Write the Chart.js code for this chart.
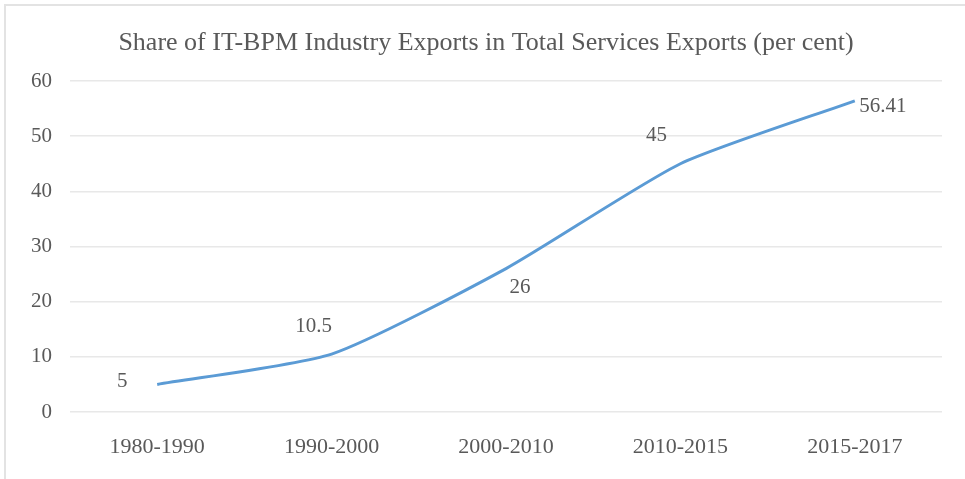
<!DOCTYPE html>
<html>
<head>
<meta charset="utf-8">
<script src="https://cdn.jsdelivr.net/npm/chart.js@4"></script>
<style>
  body { margin: 0; background: #fff; }
  #wrap { position: relative; width: 965px; height: 479px; }
  #frame { position: absolute; left: 4px; top: 4px; width: 975px; height: 490px; border: 2px solid #e3e3e3; box-sizing: border-box; }
  canvas { display: block; }
</style>
</head>
<body>
<div id="wrap">
  <div id="frame"></div>
  <canvas id="lineChart" width="965" height="479"></canvas>
</div>
<script>
// chart values
const periods = ['1980-1990', '1990-2000', '2000-2010', '2010-2015', '2015-2017'];
const shares = [5, 10.5, 26, 45, 56.41];
const shareLabels = ['5', '10.5', '26', '45', '56.41'];
const yTicks = [0, 10, 20, 30, 40, 50, 60];
const chartTitle = 'Share of IT-BPM Industry Exports in Total Services Exports (per cent)';

const textGrey = '#595959';
const serif = '"Liberation Serif", "Times New Roman", serif';

// where each value label sits relative to its point (dx, dy)
const labelOffsets = [[-35, -3], [-18, -28], [14, 19], [-24, -28], [28, 6]];

// draws the value labels and the title (title is centred on the whole frame)
const valueLabels = {
  id: 'valueLabels',
  afterDatasetsDraw(chart) {
    const ctx = chart.ctx;
    const meta = chart.getDatasetMeta(0);
    ctx.save();
    ctx.font = '21px ' + serif;
    ctx.fillStyle = textGrey;
    ctx.textAlign = 'center';
    ctx.textBaseline = 'middle';
    meta.data.forEach((pt, i) => {
      const off = labelOffsets[i];
      ctx.fillText(shareLabels[i], pt.x + off[0], pt.y + off[1]);
    });
    ctx.font = '26px ' + serif;
    ctx.fillText(chartTitle, 486, 43);
    ctx.restore();
  }
};

const ctx = document.getElementById('lineChart').getContext('2d');
new Chart(ctx, {
  type: 'line',
  data: {
    labels: periods,
    datasets: [{
      data: shares,
      borderColor: '#5B9BD5',
      borderWidth: 3,
      pointRadius: 0,
      fill: false,
      tension: 0.2
    }]
  },
  options: {
    responsive: false,
    animation: false,
    layout: { padding: { left: 0, right: 23, top: 81, bottom: 0 } },
    plugins: {
      legend: { display: false },
      tooltip: { enabled: false },
      title: { display: false }
    },
    scales: {
      x: {
        offset: true,
        afterFit(axis) { axis.height = 67; },
        grid: { display: false, drawTicks: false },
        border: { display: false },
        ticks: {
          color: textGrey,
          padding: 22,
          maxRotation: 0,
          font: { family: serif, size: 22 }
        }
      },
      y: {
        min: 0,
        max: 60,
        afterBuildTicks(axis) { axis.ticks = yTicks.map(v => ({ value: v })); },
        afterFit(axis) { axis.width = 70; },
        grid: { color: '#e8e8e8', lineWidth: 1.5, drawTicks: false },
        border: { display: false },
        ticks: {
          color: textGrey,
          padding: 18,
          font: { family: serif, size: 21 }
        }
      }
    }
  },
  plugins: [valueLabels]
});
</script>
</body>
</html>
